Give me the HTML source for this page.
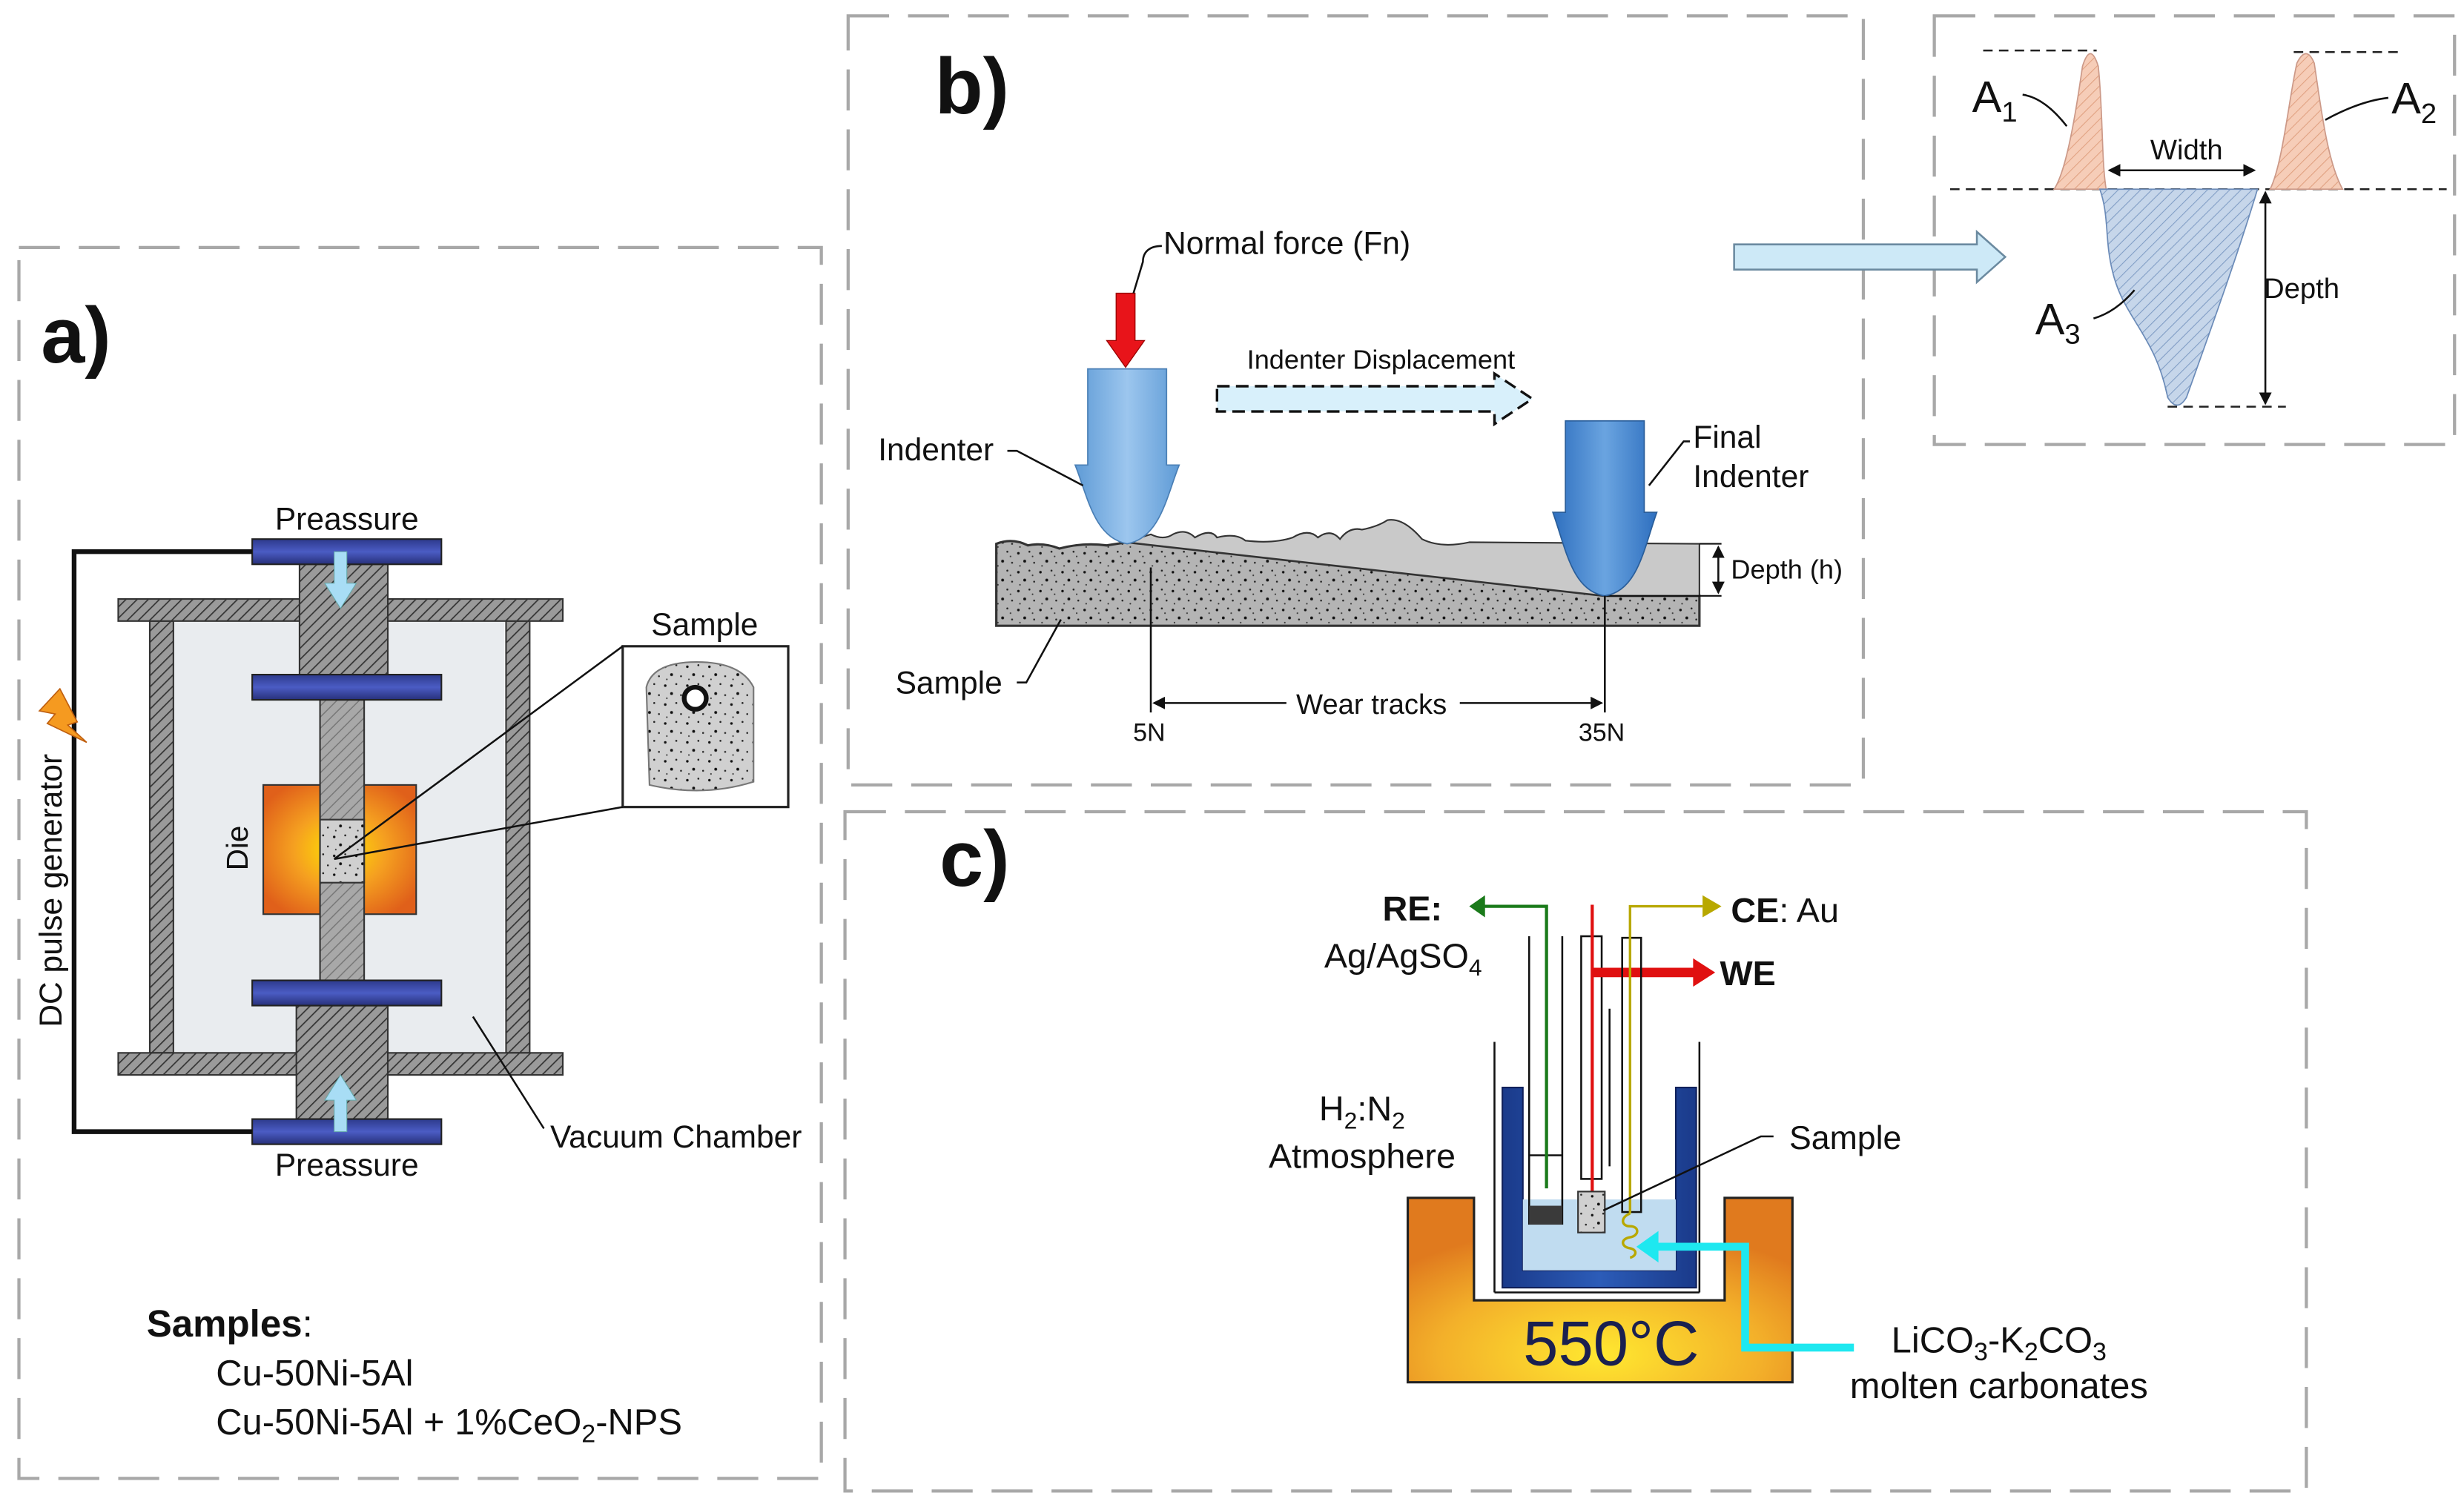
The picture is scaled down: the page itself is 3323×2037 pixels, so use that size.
<!DOCTYPE html>
<html><head><meta charset="utf-8"><style>
html,body{margin:0;padding:0;background:#fff}
svg{display:block}
text{font-family:"Liberation Sans",Arial,sans-serif;fill:#111}
</style></head><body>
<svg width="3323" height="2037" viewBox="0 0 1563 958" xmlns="http://www.w3.org/2000/svg">
<defs>
<pattern id="hatch" width="5" height="5" patternUnits="userSpaceOnUse" patternTransform="rotate(45)">
<rect width="5" height="5" fill="#9a9a9a"/><line x1="0" y1="0" x2="0" y2="5" stroke="#333" stroke-width="1.6"/></pattern>
<pattern id="hatchL" width="5" height="5" patternUnits="userSpaceOnUse" patternTransform="rotate(45)">
<rect width="5" height="5" fill="#a8a8a8"/><line x1="0" y1="0" x2="0" y2="5" stroke="#777" stroke-width="1.4"/></pattern>
<pattern id="speck" width="14" height="12" patternUnits="userSpaceOnUse">
<rect width="14" height="12" fill="#b4b4b4"/>
<circle cx="2" cy="3" r=".8" fill="#111"/><circle cx="9" cy="2" r=".6" fill="#222"/><circle cx="6" cy="8" r=".9" fill="#111"/><circle cx="12" cy="9" r=".6" fill="#222"/><circle cx="3" cy="11" r=".5" fill="#333"/><circle cx="11" cy="5" r=".5" fill="#333"/></pattern>
<pattern id="speckL" width="14" height="12" patternUnits="userSpaceOnUse">
<rect width="14" height="12" fill="#d0d0d0"/>
<circle cx="2" cy="3" r=".8" fill="#111"/><circle cx="9" cy="2" r=".6" fill="#222"/><circle cx="6" cy="8" r=".9" fill="#111"/><circle cx="12" cy="9" r=".6" fill="#222"/><circle cx="3" cy="11" r=".5" fill="#333"/></pattern>
<pattern id="peach" width="5" height="5" patternUnits="userSpaceOnUse" patternTransform="rotate(45)">
<rect width="5" height="5" fill="#f6cdb8"/><line x1="0" y1="0" x2="0" y2="5" stroke="#e0a080" stroke-width="1"/></pattern>
<pattern id="bluehatch" width="5" height="5" patternUnits="userSpaceOnUse" patternTransform="rotate(45)">
<rect width="5" height="5" fill="#c6d6ea"/><line x1="0" y1="0" x2="0" y2="5" stroke="#7f9cc4" stroke-width="1"/></pattern>
<linearGradient id="plate" x1="0" y1="0" x2="0" y2="1"><stop offset="0" stop-color="#2d3a8c"/><stop offset=".5" stop-color="#4b5cc4"/><stop offset="1" stop-color="#27307a"/></linearGradient>
<radialGradient id="die" cx=".5" cy=".5" r=".6"><stop offset="0" stop-color="#ffe400"/><stop offset=".5" stop-color="#f5a020"/><stop offset="1" stop-color="#e0601a"/></radialGradient>
<radialGradient id="furn" cx=".5" cy=".85" r=".7"><stop offset="0" stop-color="#ffe830"/><stop offset=".6" stop-color="#f3b02a"/><stop offset="1" stop-color="#e07a1e"/></radialGradient>
<linearGradient id="ind" x1="0" y1="0" x2="1" y2="0"><stop offset="0" stop-color="#5f9bd6"/><stop offset=".5" stop-color="#9cc6ee"/><stop offset="1" stop-color="#5f9bd6"/></linearGradient>
<linearGradient id="ind2" x1="0" y1="0" x2="1" y2="0"><stop offset="0" stop-color="#2e6fbf"/><stop offset=".5" stop-color="#6aa4e0"/><stop offset="1" stop-color="#2e6fbf"/></linearGradient>
<linearGradient id="cruc" x1="0" y1="0" x2="1" y2="0"><stop offset="0" stop-color="#1a3a8a"/><stop offset=".5" stop-color="#2c5cb8"/><stop offset="1" stop-color="#1a3a8a"/></linearGradient>
<marker id="ah" markerWidth="8" markerHeight="8" refX="7" refY="4" orient="auto" markerUnits="userSpaceOnUse"><path d="M0,0 L8,4 L0,8 z" fill="#111"/></marker>
<marker id="ahs" markerWidth="8" markerHeight="8" refX="1" refY="4" orient="auto" markerUnits="userSpaceOnUse"><path d="M8,0 L0,4 L8,8 z" fill="#111"/></marker>
</defs>

<g fill="none" stroke="#a8a8a8" stroke-width="2" stroke-dasharray="26,12">
<rect x="12" y="157" width="509" height="781"/>
<rect x="538" y="10" width="644" height="488"/>
<rect x="1227" y="10" width="330" height="272"/>
<rect x="536" y="515" width="927" height="431"/>
</g>

<!-- ===== a) ===== -->
<text x="26" y="230" font-size="50" font-weight="bold">a)</text>
<rect x="110" y="394" width="210" height="274" fill="#e9ecef"/>
<rect x="95" y="394" width="15" height="274" fill="url(#hatch)" stroke="#333"/>
<rect x="321" y="394" width="15" height="274" fill="url(#hatch)" stroke="#333"/>
<rect x="75" y="380" width="282" height="14" fill="url(#hatch)" stroke="#333"/>
<rect x="75" y="668" width="282" height="14" fill="url(#hatch)" stroke="#333"/>
<rect x="190" y="358" width="56" height="70" fill="url(#hatch)" stroke="#333"/>
<rect x="188" y="638" width="58" height="72" fill="url(#hatch)" stroke="#333"/>
<rect x="167" y="498" width="97" height="82" fill="url(#die)" stroke="#333"/>
<rect x="203" y="444" width="28" height="178" fill="url(#hatchL)" stroke="#333"/>
<rect x="203" y="520" width="28" height="40" fill="url(#speckL)" stroke="#333"/>
<rect x="160" y="342" width="120" height="16" fill="url(#plate)" stroke="#222"/>
<rect x="160" y="428" width="120" height="16" fill="url(#plate)" stroke="#222"/>
<rect x="160" y="622" width="120" height="16" fill="url(#plate)" stroke="#222"/>
<rect x="160" y="710" width="120" height="16" fill="url(#plate)" stroke="#222"/>
<path d="M212,350 h8 v20 h6 l-10,16 l-10,-16 h6 z" fill="#a8ddf5" stroke="#6aa" stroke-width=".5"/>
<path d="M212,718 h8 v-20 h6 l-10,-16 l-10,16 h6 z" fill="#a8ddf5" stroke="#6aa" stroke-width=".5"/>
<path d="M160,350 H47 V718 H160" fill="none" stroke="#111" stroke-width="3"/>
<path d="M38,437 l-13,14 l10,2 l-5,6 l25,12 l-12,-11 l6,-2 z" fill="#f59a20" stroke="#c06010" stroke-width=".8"/>
<text transform="translate(39,565) rotate(-90)" font-size="20" text-anchor="middle">DC pulse generator</text>
<text transform="translate(157,538) rotate(-90)" font-size="19" text-anchor="middle">Die</text>
<text x="220" y="336" font-size="20" text-anchor="middle">Preassure</text>
<text x="220" y="746" font-size="20" text-anchor="middle">Preassure</text>
<rect x="395" y="410" width="105" height="102" fill="#fff" stroke="#222" stroke-width="1.5"/>
<path d="M410,436 q4,-16 32,-16 q28,0 36,16 v60 q-32,10 -66,2 z" fill="url(#speckL)" stroke="#777"/>
<circle cx="441" cy="443" r="7" fill="#fff" stroke="#111" stroke-width="3"/>
<text x="447" y="403" font-size="20" text-anchor="middle">Sample</text>
<line x1="212" y1="545" x2="395" y2="410" stroke="#111" stroke-width="1.2"/>
<line x1="212" y1="545" x2="395" y2="512" stroke="#111" stroke-width="1.2"/>
<line x1="300" y1="645" x2="345" y2="716" stroke="#111" stroke-width="1.2"/>
<text x="349" y="728" font-size="20">Vacuum Chamber</text>
<text x="93" y="848" font-size="24" font-weight="bold">Samples<tspan font-weight="normal">:</tspan></text>
<text x="137" y="879" font-size="23">Cu-50Ni-5Al</text>
<text x="137" y="910" font-size="23">Cu-50Ni-5Al + 1%CeO<tspan font-size="16" dy="5">2</tspan><tspan dy="-5">-NPS</tspan></text>

<!-- ===== b) ===== -->
<text x="593" y="72" font-size="50" font-weight="bold">b)</text>
<path d="M632,345 q10,-4 20,1 q10,-2 20,2 q15,-4 30,-2 l13,-2 L1018,378 L1078,378 L1078,397 L632,397 z" fill="url(#speck)" stroke="#333" stroke-width="1.5"/>
<path d="M715,344 q8,-3 15,-5 q8,4 14,0 q8,-4 14,2 q10,-6 14,0 q12,-3 18,2 q18,2 30,-2 q10,-6 16,0 q8,-6 14,1 q6,-8 14,-6 q10,-2 16,-6 q10,-2 22,12 q12,6 30,2 L1078,345 L1078,378 L1018,378 z" fill="#c9c9c9" stroke="#333" stroke-width="1"/>
<line x1="1078" y1="345" x2="1092" y2="345" stroke="#111"/>
<line x1="1018" y1="378" x2="1092" y2="378" stroke="#111"/>
<path d="M690,234 h50 v61 h8 c-8,20 -12,46 -33,50 c-21,-4 -25,-30 -33,-50 h8 z" fill="url(#ind)" stroke="#4a7fb5" stroke-width=".8"/>
<path d="M708,186 h12 v30 h6 l-12,17 l-12,-17 h6 z" fill="#e8141a" stroke="#900" stroke-width=".6"/>
<path d="M737,156 c-8,0 -12,4 -12,10 l-6,20" fill="none" stroke="#111" stroke-width="1.2"/>
<text x="738" y="161" font-size="20">Normal force (Fn)</text>
<path d="M772,245 h176 v-8 l24,16 l-24,16 v-8 h-176 z" fill="#d8f0fb" stroke="#111" stroke-width="1.6" stroke-dasharray="8,4"/>
<text x="876" y="234" font-size="17" text-anchor="middle">Indenter Displacement</text>
<path d="M993,267 h50 v58 h8 c-8,22 -12,50 -33,53 c-21,-3 -25,-31 -33,-53 h8 z" fill="url(#ind2)" stroke="#2a5e9a" stroke-width=".8"/>
<text x="1074" y="284" font-size="20">Final</text>
<text x="1074" y="309" font-size="20">Indenter</text>
<path d="M1072,280 h-4 l-22,28" fill="none" stroke="#111" stroke-width="1.2"/>
<text x="557" y="292" font-size="20">Indenter</text>
<path d="M639,286 h6 l42,22" fill="none" stroke="#111" stroke-width="1.2"/>
<line x1="1090" y1="347" x2="1090" y2="376" stroke="#111" stroke-width="1.2" marker-start="url(#ahs)" marker-end="url(#ah)"/>
<text x="1098" y="367" font-size="17">Depth (h)</text>
<text x="568" y="440" font-size="20">Sample</text>
<path d="M645,433 h6 l22,-40" fill="none" stroke="#111" stroke-width="1.2"/>
<line x1="730" y1="360" x2="730" y2="452" stroke="#111" stroke-width="1.2"/>
<line x1="1018" y1="378" x2="1018" y2="452" stroke="#111" stroke-width="1.2"/>
<line x1="732" y1="446" x2="1016" y2="446" stroke="#111" stroke-width="1.2" marker-start="url(#ahs)" marker-end="url(#ah)"/>
<rect x="816" y="436" width="110" height="20" fill="#fff"/>
<text x="870" y="453" font-size="18" text-anchor="middle">Wear tracks</text>
<text x="729" y="470" font-size="16" text-anchor="middle">5N</text>
<text x="1016" y="470" font-size="16" text-anchor="middle">35N</text>
<path d="M1100,155 h154 v-8 l18,16 l-18,16 v-8 h-154 z" fill="#cde9f7" stroke="#6b8aa0" stroke-width="1.2"/>

<!-- right inset -->
<g stroke="#222" stroke-width="1.2" stroke-dasharray="6,4" fill="none">
<line x1="1258" y1="32" x2="1330" y2="32"/><line x1="1455" y1="33" x2="1525" y2="33"/>
<line x1="1237" y1="120" x2="1552" y2="120"/><line x1="1375" y1="258" x2="1450" y2="258"/>
</g>
<path d="M1303,120 c8,-12 14,-50 18,-78 q5,-16 10,0 c3,28 2,60 5,78 z" fill="url(#peach)" stroke="#c98" stroke-width=".8"/>
<path d="M1440,120 c8,-16 12,-58 17,-80 q6,-12 11,0 c4,26 8,62 18,80 z" fill="url(#peach)" stroke="#c98" stroke-width=".8"/>
<path d="M1336,120 L1432,120 c-12,40 -30,90 -45,132 q-6,10 -12,0 c-8,-40 -28,-50 -35,-80 c-5,-20 -2,-35 -8,-52 z" fill="url(#bluehatch)" stroke="#6b8bb8" stroke-width=".8"/>
<line x1="1338" y1="108" x2="1430" y2="108" stroke="#111" stroke-width="1.2" marker-start="url(#ahs)" marker-end="url(#ah)"/>
<text x="1387" y="101" font-size="18" text-anchor="middle">Width</text>
<line x1="1437" y1="122" x2="1437" y2="256" stroke="#111" stroke-width="1.2" marker-start="url(#ahs)" marker-end="url(#ah)"/>
<text x="1436" y="189" font-size="18">Depth</text>
<text x="1251" y="71" font-size="28">A<tspan font-size="18" dy="6">1</tspan></text>
<path d="M1283,60 q14,2 28,20" fill="none" stroke="#111" stroke-width="1.2"/>
<text x="1517" y="72" font-size="28">A<tspan font-size="18" dy="6">2</tspan></text>
<path d="M1515,62 q-18,2 -40,14" fill="none" stroke="#111" stroke-width="1.2"/>
<text x="1291" y="212" font-size="28">A<tspan font-size="18" dy="6">3</tspan></text>
<path d="M1328,202 q14,-4 26,-18" fill="none" stroke="#111" stroke-width="1.2"/>

<!-- ===== c) ===== -->
<text x="596" y="562" font-size="50" font-weight="bold">c)</text>
<path d="M893,760 H935 V825 H1094 V760 H1137 V877 H893 z" fill="url(#furn)" stroke="#222" stroke-width="1.5"/>
<text x="1022" y="866" font-size="40" text-anchor="middle" style="fill:#1a2050">550°C</text>
<line x1="948" y1="661" x2="948" y2="820" stroke="#111" stroke-width="1.2"/>
<line x1="1078" y1="661" x2="1078" y2="820" stroke="#111" stroke-width="1.2"/>
<line x1="948" y1="820" x2="1078" y2="820" stroke="#111" stroke-width="1.2"/>
<path d="M953,690 H966 V806 H1063 V690 H1076 V817 H953 z" fill="url(#cruc)" stroke="#10205a" stroke-width="1"/>
<rect x="966" y="761" width="97" height="45" fill="#c0dcf0"/>
<line x1="970" y1="594" x2="970" y2="777" stroke="#111" stroke-width="1.2"/>
<line x1="991" y1="594" x2="991" y2="777" stroke="#111" stroke-width="1.2"/>
<line x1="970" y1="733" x2="991" y2="733" stroke="#111" stroke-width="1.2"/>
<rect x="970" y="765" width="21" height="12" fill="#3a3a3a"/>
<path d="M981,754 V575 H940" fill="none" stroke="#1a7a1a" stroke-width="2"/>
<path d="M932,575 l10,-7 v14 z" fill="#1a7a1a"/>
<text x="877" y="584" font-size="22" font-weight="bold">RE:</text>
<text x="840" y="614" font-size="22">Ag/AgSO<tspan font-size="15" dy="5">4</tspan></text>
<rect x="1003" y="594" width="13" height="154" fill="none" stroke="#111" stroke-width="1.2"/>
<line x1="1010" y1="574" x2="1010" y2="757" stroke="#e01010" stroke-width="2"/>
<path d="M1010,614 H1074 V608 L1088,617 L1074,626 V620 H1010 z" fill="#e01010"/>
<text x="1091" y="625" font-size="22" font-weight="bold">WE</text>
<rect x="1001" y="756" width="17" height="26" fill="url(#speckL)" stroke="#333"/>
<line x1="1021" y1="640" x2="1021" y2="740" stroke="#111" stroke-width="1.2"/>
<rect x="1029" y="595" width="12" height="174" fill="none" stroke="#111" stroke-width="1.2"/>
<path d="M1034,770 V575 H1080" fill="none" stroke="#b8a800" stroke-width="1.6"/>
<path d="M1092,575 l-12,-7 v14 z" fill="#b8a800"/>
<path d="M1034,770 c-6,2 -6,8 0,8 c6,0 6,6 0,7 c-6,1 -6,6 0,7 c5,1 4,5 0,6" fill="none" stroke="#b8a800" stroke-width="1.6"/>
<text x="1098" y="585" font-size="22"><tspan font-weight="bold">CE</tspan>: Au</text>
<path d="M1176,855 H1107 V791 H1048" fill="none" stroke="#1ee8f0" stroke-width="5"/>
<path d="M1038,791 l14,-10 v20 z" fill="#1ee8f0"/>
<path d="M1125,721 h-8 l-100,47" fill="none" stroke="#111" stroke-width="1.2"/>
<text x="1135" y="729" font-size="21">Sample</text>
<text x="864" y="711" font-size="22" text-anchor="middle">H<tspan font-size="15" dy="5">2</tspan><tspan dy="-5">:N</tspan><tspan font-size="15" dy="5">2</tspan></text>
<text x="864" y="741" font-size="22" text-anchor="middle">Atmosphere</text>
<text x="1268" y="858" font-size="23" text-anchor="middle">LiCO<tspan font-size="16" dy="5">3</tspan><tspan dy="-5">-K</tspan><tspan font-size="16" dy="5">2</tspan><tspan dy="-5">CO</tspan><tspan font-size="16" dy="5">3</tspan></text>
<text x="1268" y="887" font-size="23" text-anchor="middle">molten carbonates</text>
</svg>
</body></html>
